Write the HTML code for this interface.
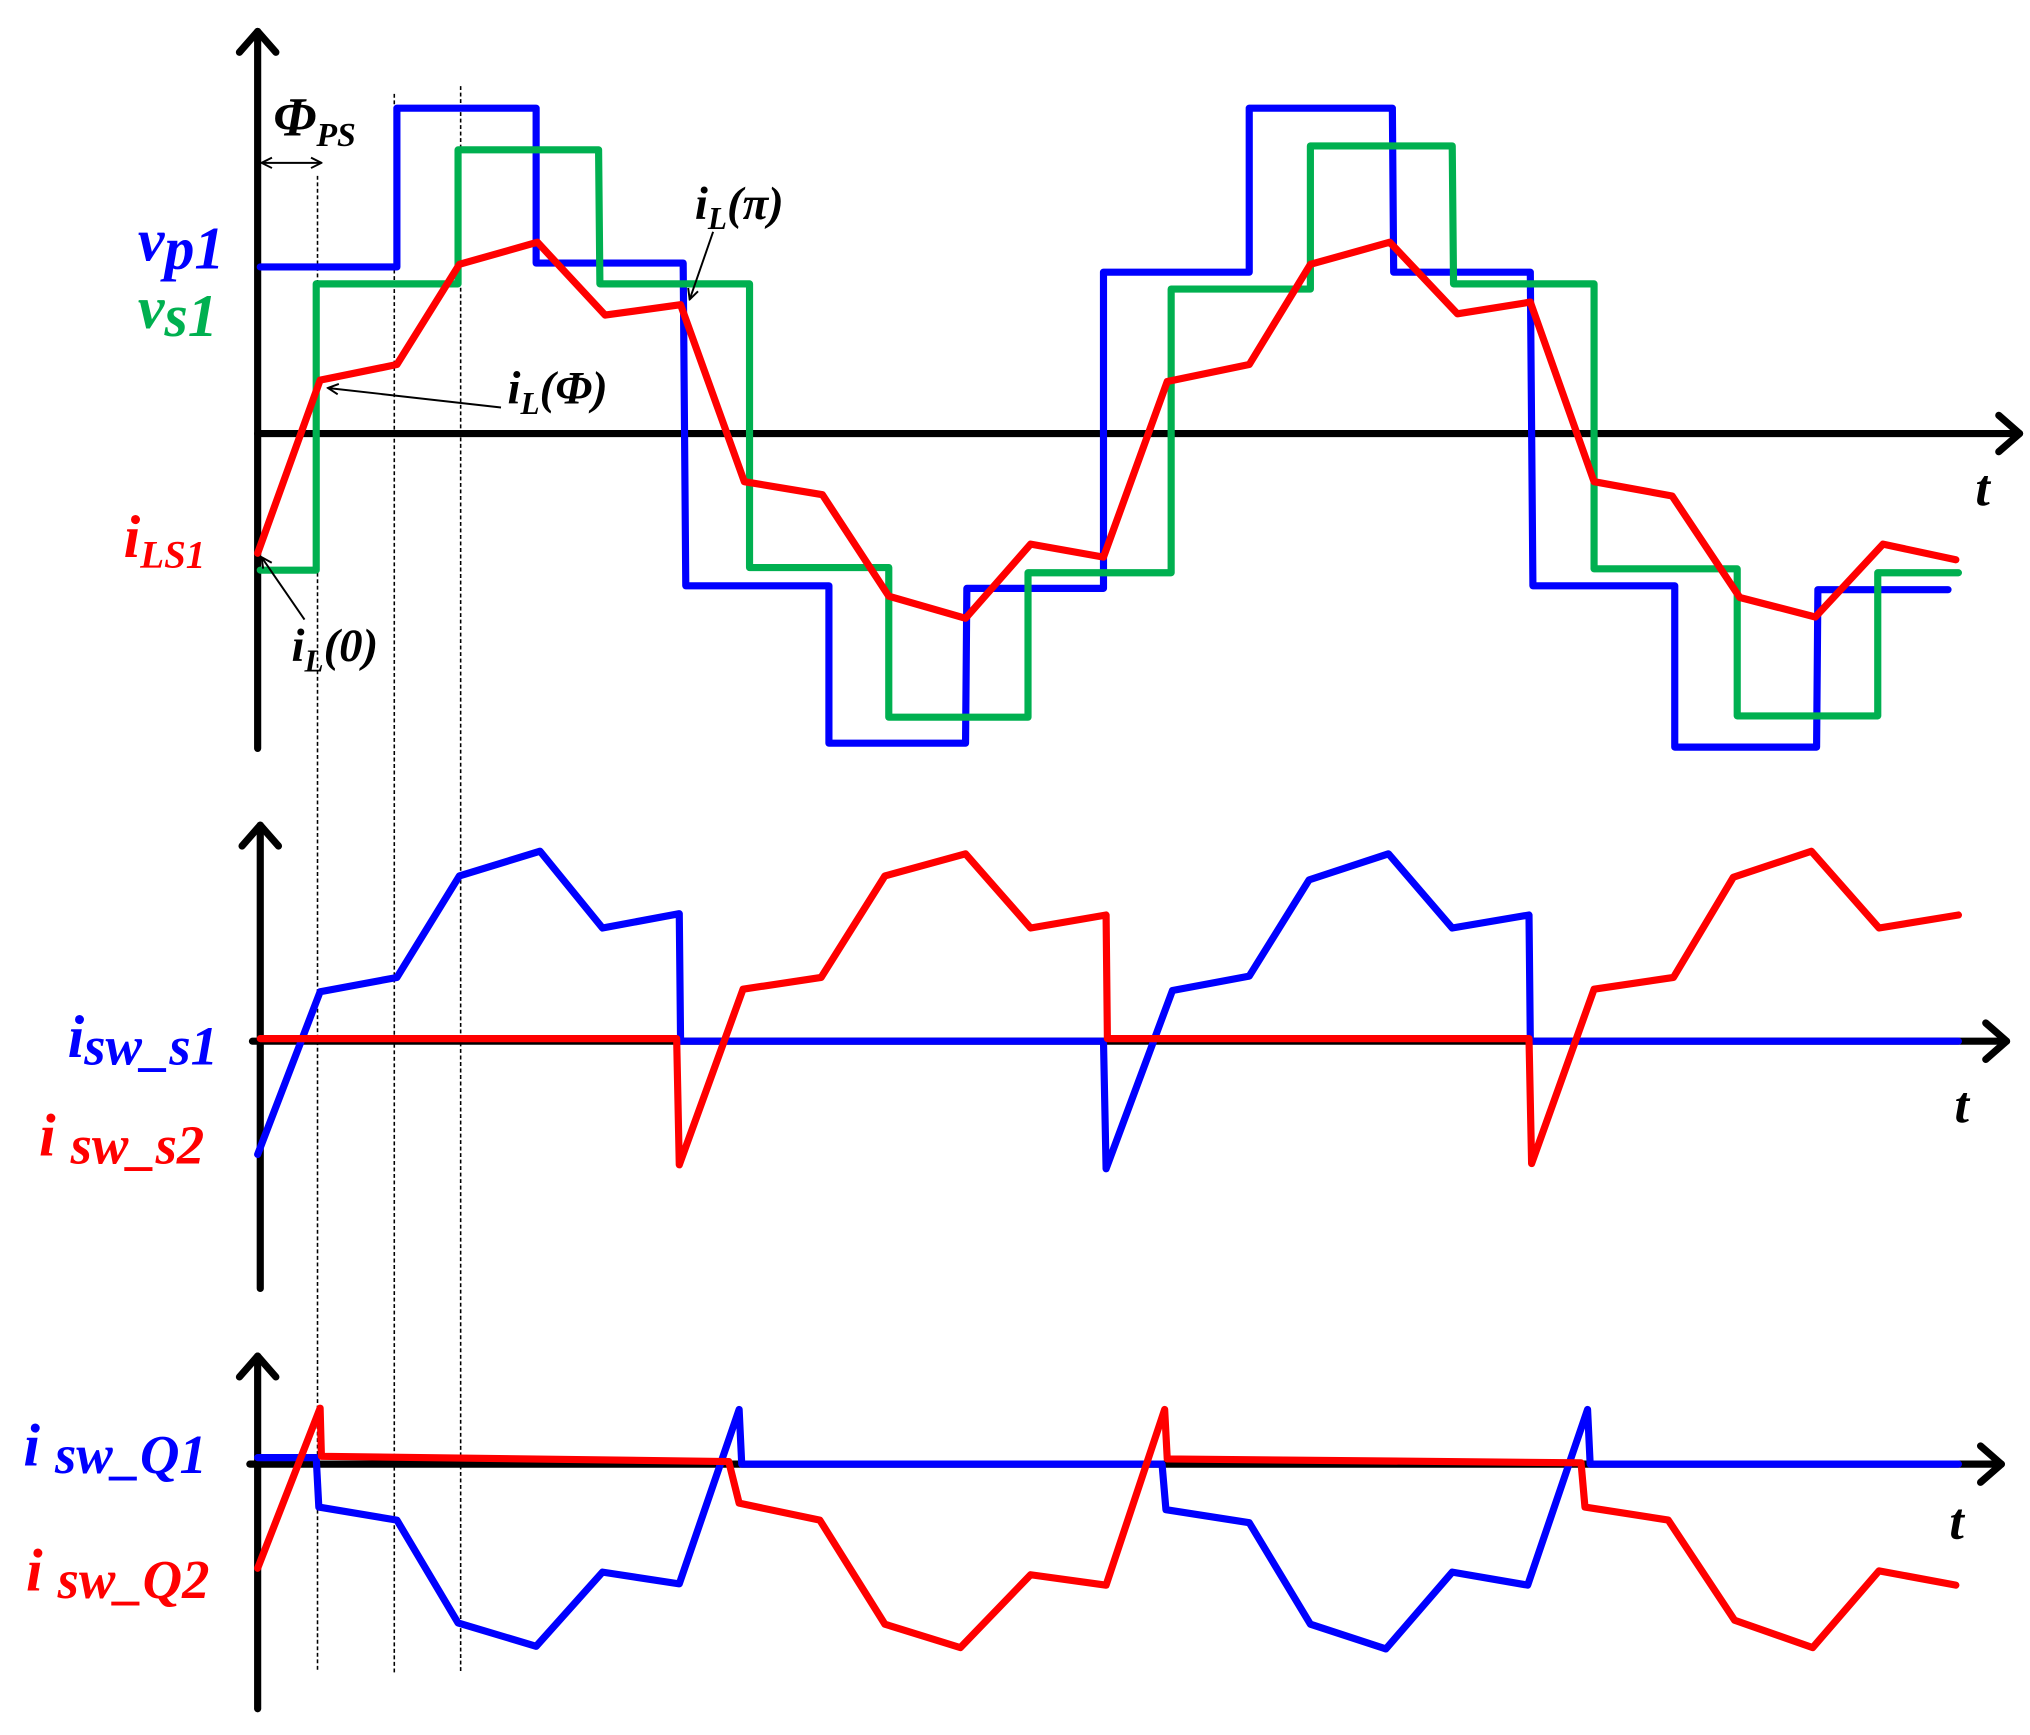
<!DOCTYPE html>
<html><head><meta charset="utf-8"><style>
html,body{margin:0;padding:0;background:#fff;}
svg{display:block;}
text{font-family:"Liberation Serif",serif;font-weight:bold;font-style:italic;}
</style></head><body>
<svg width="2030" height="1735" viewBox="0 0 1560 1333" xmlns="http://www.w3.org/2000/svg">
<defs>
<marker id="sa" markerWidth="10" markerHeight="10" refX="9" refY="5" orient="auto" markerUnits="userSpaceOnUse"><path d="M1,1 L9,5 L1,9" fill="none" stroke="#000" stroke-width="1.5"/></marker>
<marker id="sb" markerWidth="10" markerHeight="10" refX="1" refY="5" orient="auto" markerUnits="userSpaceOnUse"><path d="M9,1 L1,5 L9,9" fill="none" stroke="#000" stroke-width="1.5"/></marker>
</defs>
<g stroke="#000" stroke-width="1.2" stroke-dasharray="3,2" fill="none">
<line x1="244" y1="135" x2="244" y2="1285"/>
<line x1="303" y1="72" x2="303" y2="1285"/>
<line x1="354" y1="66" x2="354" y2="1285"/>
</g>
<g stroke="#000" stroke-width="5.5" fill="none" stroke-linecap="round" stroke-linejoin="round">
<line x1="198" y1="575" x2="198" y2="24"/><polyline points="184,40 198,24 212,40"/>
<line x1="198" y1="333" x2="1552" y2="333"/><polyline points="1536,319 1552,333 1536,347"/>
<line x1="200" y1="990" x2="200" y2="634"/><polyline points="186,650 200,634 214,650"/>
<line x1="194" y1="800" x2="1542" y2="800"/><polyline points="1526,786 1542,800 1526,814"/>
<line x1="198" y1="1313" x2="198" y2="1042"/><polyline points="184,1058 198,1042 212,1058"/>
<line x1="192" y1="1125" x2="1538" y2="1125"/><polyline points="1522,1111 1538,1125 1522,1139"/>
</g>
<g fill="none" stroke-width="5.5" stroke-linejoin="round" stroke-linecap="round">
<polyline stroke="#0000ff" points="200,205 305,205 305,83 412,83 412,202 525,202 527,450 637,450 637,571 742,571 743,452 848,452 848,209 960,209 960,83 1070,83 1071,209 1176,209 1178,450 1287,450 1287,574 1396,574 1397,453 1497,453"/>
<polyline stroke="#00b050" points="200,438 243,438 243,218 352,218 352,115 460,115 461,218 576,218 576,436 683,436 683,551 790,551 790,440 900,440 900,222 1007,222 1007,112 1116,112 1117,218 1225,218 1225,437 1335,437 1335,550 1443,550 1443,440 1505,440"/>
<polyline stroke="#ff0000" points="198,425 246,292 305,280 353,203 413,186 465,242 523,234 572,370 632,380 683,458 742,475 792,418 848,428 897,293 960,280 1007,203 1068,186 1120,241 1176,232 1225,370 1285,381 1337,459 1395,474 1447,418 1503,430"/>
<polyline stroke="#0000ff" points="198,887 246,762 305,751 353,673 415,654 463,713 522,702 523,800 848,800 850,898 901,761 960,750 1006,676 1067,656 1116,713 1175,703 1176,800 1505,800"/>
<polyline stroke="#ff0000" points="200,798 520,798 522,895 571,760 631,751 680,673 742,656 792,713 850,703 851,798 1175,798 1177,894 1225,760 1286,751 1332,674 1392,654 1444,713 1505,703"/>
<polyline stroke="#0000ff" points="198,1120 243,1120 245,1158 305,1168 352,1247 412,1265 463,1208 522,1217 568,1083 570,1125 893,1125 896,1160 960,1170 1007,1248 1065,1267 1116,1208 1174,1218 1220,1083 1222,1125 1505,1125"/>
<polyline stroke="#ff0000" points="198,1205 246,1082 247,1119 560,1123 568,1155 630,1168 680,1248 738,1266 792,1210 850,1218 895,1083 897,1121 1215,1124 1218,1158 1282,1168 1333,1245 1393,1266 1444,1207 1503,1218"/>
</g>
<g stroke="#000" stroke-width="1.5" fill="none">
<line x1="201" y1="125" x2="247" y2="125" marker-start="url(#sb)" marker-end="url(#sa)"/>
<line x1="548" y1="178" x2="530" y2="230" marker-end="url(#sa)"/>
<line x1="385" y1="313" x2="252" y2="298" marker-end="url(#sa)"/>
<line x1="234" y1="476" x2="201" y2="428" marker-end="url(#sa)"/>
</g>
<text x="210" y="104" font-size="42" fill="#000">Φ<tspan font-size="26" dy="8">PS</tspan></text>
<text x="534" y="168" font-size="36" fill="#000">i<tspan font-size="24" dy="8">L</tspan><tspan dy="-8">(π)</tspan></text>
<text x="390" y="310" font-size="36" fill="#000">i<tspan font-size="24" dy="8">L</tspan><tspan dy="-8">(Φ)</tspan></text>
<text x="224" y="508" font-size="36" fill="#000">i<tspan font-size="24" dy="8">L</tspan><tspan dy="-8">(0)</tspan></text>
<text x="106" y="200" font-size="46" fill="#0000ff">v<tspan dy="6">p1</tspan></text>
<text x="106" y="252" font-size="46" fill="#00b050">v<tspan dy="6">s1</tspan></text>
<text x="95" y="428" font-size="46" fill="#ff0000">i<tspan font-size="30" dy="8">LS1</tspan></text>
<text x="52" y="812" font-size="46" fill="#0000ff">i<tspan dy="6" font-size="42">sw_s1</tspan></text>
<text x="30" y="888" font-size="46" fill="#ff0000">i <tspan dy="6" font-size="42">sw_s2</tspan></text>
<text x="18" y="1126" font-size="46" fill="#0000ff">i <tspan dy="6" font-size="42">sw_Q1</tspan></text>
<text x="20" y="1222" font-size="46" fill="#ff0000">i <tspan dy="6" font-size="42">sw_Q2</tspan></text>
<text x="1518" y="388" font-size="40" fill="#000">t</text>
<text x="1502" y="862" font-size="40" fill="#000">t</text>
<text x="1498" y="1182" font-size="40" fill="#000">t</text>
</svg>
</body></html>
